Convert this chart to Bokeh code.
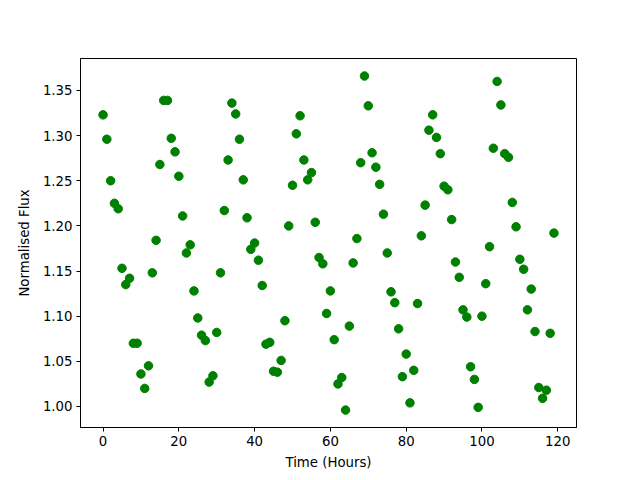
from bokeh.plotting import figure
from bokeh.models import Range1d, FixedTicker, PrintfTickFormatter
from bokeh.embed import file_html
from bokeh.resources import INLINE

time_hours = list(range(120))
flux = [
    1.323, 1.296, 1.250, 1.225, 1.219, 1.153, 1.135, 1.142, 1.070, 1.070,
    1.036, 1.020, 1.045, 1.148, 1.184, 1.268, 1.339, 1.339, 1.297, 1.282,
    1.255, 1.211, 1.170, 1.179, 1.128, 1.098, 1.079, 1.073, 1.027, 1.034,
    1.082, 1.148, 1.217, 1.273, 1.336, 1.324, 1.296, 1.251, 1.209, 1.174,
    1.181, 1.162, 1.134, 1.069, 1.071, 1.039, 1.038, 1.051, 1.095, 1.200,
    1.245, 1.302, 1.322, 1.273, 1.251, 1.259, 1.204, 1.165, 1.158, 1.103,
    1.128, 1.074, 1.025, 1.032, 0.996, 1.089, 1.159, 1.186, 1.270, 1.366,
    1.333, 1.281, 1.265, 1.246, 1.213, 1.170, 1.127, 1.115, 1.086, 1.033,
    1.058, 1.004, 1.040, 1.114, 1.189, 1.223, 1.306, 1.323, 1.298, 1.280,
    1.244, 1.240, 1.207, 1.160, 1.143, 1.107, 1.099, 1.044, 1.030, 0.999,
    1.100, 1.136, 1.177, 1.286, 1.360, 1.334, 1.280, 1.276, 1.226, 1.199,
    1.163, 1.152, 1.107, 1.130, 1.083, 1.021, 1.009, 1.018, 1.081, 1.192,
]
x_ticks = [0, 20, 40, 60, 80, 100, 120]
y_ticks = [1.00, 1.05, 1.10, 1.15, 1.20, 1.25, 1.30, 1.35]

p = figure(output_backend="svg", toolbar_location=None,
           frame_width=496, frame_height=369,
           min_border_left=80, min_border_right=48,
           min_border_top=58, min_border_bottom=45,
           x_range=Range1d(-5.95, 124.95), y_range=Range1d(0.9767, 1.3854))

p.scatter(time_hours, flux, size=8.5, color="green", line_color="green")

p.xgrid.visible = False
p.ygrid.visible = False
p.outline_line_color = "black"
p.outline_line_width = 1
p.background_fill_color = "white"
p.border_fill_color = "white"

p.xaxis.ticker = FixedTicker(ticks=x_ticks)
p.yaxis.ticker = FixedTicker(ticks=y_ticks)
p.yaxis.formatter = PrintfTickFormatter(format="%.2f")
p.xaxis.axis_label = "Time (Hours)"
p.yaxis.axis_label = "Normalised Flux"

for ax in (p.xaxis, p.yaxis):
    ax.axis_line_color = "black"
    ax.major_tick_in = 0
    ax.major_tick_out = 4
    ax.minor_tick_line_color = None
    ax.major_tick_line_color = "black"
    ax.major_label_text_font = "DejaVu Sans"
    ax.major_label_text_font_size = "13.3px"
    ax.major_label_text_color = "black"
    ax.axis_label_text_font = "DejaVu Sans"
    ax.axis_label_text_font_size = "13.3px"
    ax.axis_label_text_font_style = "normal"
    ax.axis_label_text_color = "black"
    ax.major_label_standoff = 4

p.xaxis.axis_label_standoff = 6
p.yaxis.axis_label_standoff = 8

open("out.html", "w").write(file_html(p, INLINE))
